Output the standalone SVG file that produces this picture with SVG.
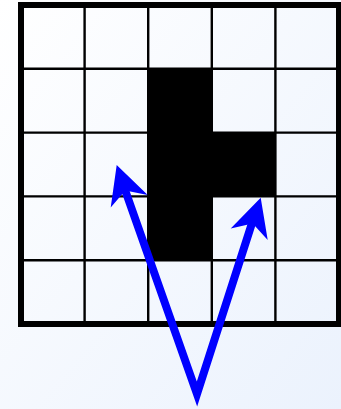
<svg xmlns="http://www.w3.org/2000/svg" width="341" height="409" viewBox="0 0 341 409">
<defs>
<linearGradient id="bg" x1="0" y1="0" x2="1" y2="1">
<stop offset="0" stop-color="#ffffff"/>
<stop offset="1" stop-color="#ebf2fd"/>
</linearGradient>
<style>
.cell{fill:#000000}
.grid{stroke:#000000;stroke-width:2.4;fill:none}
.border{stroke:#000000;stroke-width:6;fill:none}
.shaft{stroke:#0000ff;stroke-width:8;fill:none;stroke-linejoin:miter;stroke-miterlimit:4}
.head{fill:#0000ff}
</style>
</defs>
<rect x="0" y="0" width="341" height="409" fill="url(#bg)"/>
<g id="grid">
<g id="black-cells">
<rect class="cell" x="148.2" y="68.8" width="63.6" height="191.4"/>
<rect class="cell" x="211.8" y="132.6" width="63.6" height="63.8"/>
</g>
<path class="grid" d="M84.6 5V324 M148.2 5V324 M211.8 5V324 M275.4 5V324 M21 68.8H339 M21 132.6H339 M21 196.4H339 M21 260.2H339"/>
<rect class="border" x="21" y="5" width="318" height="319"/>
</g>
<g id="connectors">
<polyline class="shaft" points="124,187 197,394 253,220"/>
<polygon class="head" points="116.7,165 110.7,207.5 125.3,190.6 147.7,195"/>
<polygon class="head" points="260.7,197.7 230.7,228.5 252.7,223.5 267.7,240"/>
</g>
</svg>
